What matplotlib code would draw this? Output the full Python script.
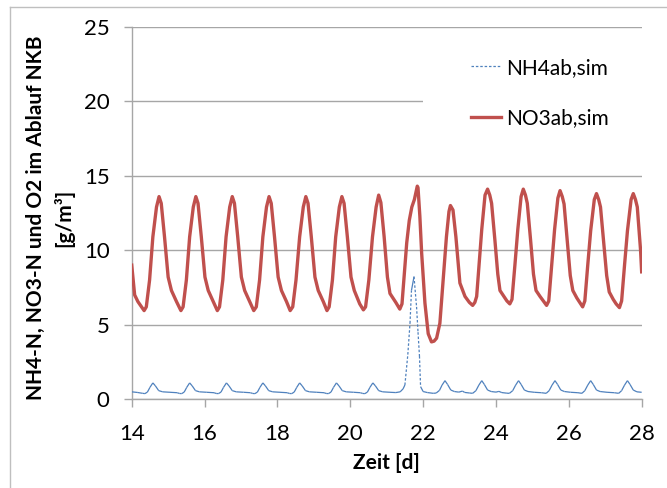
import matplotlib.pyplot as plt
import numpy as np
from matplotlib.collections import LineCollection
from matplotlib.lines import Line2D
from matplotlib.patches import Rectangle

plt.rcParams['font.family'] = ['Lato', 'DejaVu Sans']

# NH4 im Ablauf (Simulation)
nh4_day = [14.00, 14.15, 14.30, 14.36, 14.43, 14.50, 14.58, 14.65, 14.74, 14.85,
           15.05, 15.25, 15.31, 15.37, 15.44, 15.51, 15.59, 15.66, 15.75, 15.86,
           16.06, 16.26, 16.32, 16.38, 16.45, 16.52, 16.60, 16.67, 16.76, 16.87,
           17.07, 17.26, 17.32, 17.38, 17.45, 17.52, 17.60, 17.67, 17.76, 17.87,
           18.07, 18.27, 18.33, 18.39, 18.46, 18.53, 18.61, 18.68, 18.77, 18.88,
           19.08, 19.28, 19.34, 19.40, 19.47, 19.54, 19.62, 19.69, 19.78, 19.89,
           20.09, 20.28, 20.34, 20.40, 20.47, 20.54, 20.62, 20.69, 20.78, 20.89,
           21.09, 21.25, 21.37, 21.45, 21.50, 21.58, 21.64, 21.68, 21.75, 21.82,
           21.86, 21.90, 21.93, 22.00, 22.12, 22.28, 22.36, 22.45, 22.52, 22.60,
           22.67, 22.76, 22.86, 22.98, 23.08, 23.14, 23.28, 23.36, 23.45, 23.53,
           23.61, 23.68, 23.77, 23.87, 24.00, 24.08, 24.16, 24.30, 24.37, 24.46,
           24.54, 24.62, 24.69, 24.78, 24.88, 25.05, 25.25, 25.38, 25.46, 25.54,
           25.62, 25.69, 25.78, 25.88, 26.05, 26.25, 26.36, 26.44, 26.52, 26.60,
           26.67, 26.76, 26.86, 27.05, 27.25, 27.37, 27.45, 27.53, 27.61, 27.68,
           27.77, 27.87, 28.00]
nh4_val = [0.50, 0.46, 0.40, 0.38, 0.48, 0.80, 1.10, 0.90, 0.58, 0.50,
           0.47, 0.44, 0.39, 0.38, 0.48, 0.80, 1.10, 0.90, 0.58, 0.50,
           0.47, 0.44, 0.39, 0.38, 0.48, 0.80, 1.10, 0.90, 0.58, 0.50,
           0.47, 0.44, 0.39, 0.38, 0.48, 0.80, 1.10, 0.90, 0.58, 0.50,
           0.47, 0.44, 0.39, 0.38, 0.48, 0.80, 1.10, 0.90, 0.58, 0.50,
           0.47, 0.44, 0.39, 0.38, 0.48, 0.80, 1.10, 0.90, 0.58, 0.50,
           0.47, 0.44, 0.39, 0.38, 0.48, 0.80, 1.10, 0.90, 0.58, 0.50,
           0.47, 0.45, 0.50, 0.70, 0.96, 3.00, 5.10, 7.30, 8.23, 6.20,
           4.50, 2.90, 0.85, 0.52, 0.45, 0.40, 0.42, 0.60, 0.95, 1.25,
           1.00, 0.62, 0.52, 0.48, 0.55, 0.46, 0.42, 0.40, 0.58, 0.95,
           1.25, 1.00, 0.62, 0.52, 0.48, 0.53, 0.45, 0.41, 0.40, 0.58,
           0.95, 1.25, 1.00, 0.62, 0.52, 0.47, 0.44, 0.40, 0.58, 0.95,
           1.25, 1.00, 0.62, 0.52, 0.47, 0.44, 0.40, 0.58, 0.95, 1.25,
           1.00, 0.62, 0.52, 0.47, 0.44, 0.40, 0.58, 0.95, 1.25, 1.00,
           0.62, 0.50, 0.47]

# NO3 im Ablauf (Simulation)
no3_day = [14.00, 14.08, 14.17, 14.27, 14.34, 14.40, 14.49, 14.58, 14.68, 14.75,
           14.81, 14.90, 15.00, 15.09, 15.23, 15.35, 15.41, 15.50, 15.59, 15.69,
           15.76, 15.82, 15.91, 16.01, 16.10, 16.24, 16.35, 16.41, 16.50, 16.59,
           16.69, 16.76, 16.82, 16.91, 17.01, 17.10, 17.24, 17.35, 17.42, 17.51,
           17.60, 17.70, 17.77, 17.83, 17.92, 18.02, 18.11, 18.25, 18.35, 18.42,
           18.51, 18.61, 18.71, 18.78, 18.84, 18.93, 19.03, 19.12, 19.26, 19.36,
           19.42, 19.51, 19.60, 19.70, 19.77, 19.83, 19.92, 20.02, 20.11, 20.26,
           20.36, 20.42, 20.51, 20.61, 20.71, 20.78, 20.84, 20.93, 21.02, 21.09,
           21.25, 21.36, 21.42, 21.48, 21.55, 21.62, 21.69, 21.76, 21.84, 21.86,
           21.91, 21.96, 22.05, 22.14, 22.23, 22.30, 22.37, 22.46, 22.55, 22.64,
           22.71, 22.75, 22.82, 22.90, 23.01, 23.15, 23.27, 23.36, 23.42, 23.47,
           23.54, 23.61, 23.70, 23.77, 23.83, 23.88, 23.97, 24.05, 24.11, 24.22,
           24.30, 24.38, 24.44, 24.52, 24.60, 24.69, 24.75, 24.81, 24.86, 24.95,
           25.03, 25.10, 25.21, 25.30, 25.39, 25.45, 25.53, 25.61, 25.70, 25.76,
           25.82, 25.87, 25.96, 26.04, 26.11, 26.22, 26.30, 26.38, 26.44, 26.52,
           26.60, 26.70, 26.76, 26.82, 26.87, 26.96, 27.04, 27.11, 27.22, 27.30,
           27.39, 27.45, 27.53, 27.61, 27.71, 27.77, 27.83, 27.88, 27.97, 28.00]
no3_val = [9.00, 7.00, 6.55, 6.20, 5.95, 6.20, 8.00, 10.90, 12.90, 13.60,
           13.15, 10.90, 8.20, 7.30, 6.55, 5.95, 6.20, 8.00, 10.90, 12.90,
           13.60, 13.15, 10.90, 8.20, 7.30, 6.55, 5.95, 6.20, 8.00, 10.90,
           12.90, 13.60, 13.15, 10.90, 8.20, 7.30, 6.55, 5.95, 6.20, 8.00,
           10.90, 12.90, 13.60, 13.15, 10.90, 8.20, 7.30, 6.55, 5.95, 6.20,
           8.00, 10.90, 12.90, 13.60, 13.15, 10.90, 8.20, 7.30, 6.55, 5.95,
           6.20, 8.00, 10.90, 12.90, 13.60, 13.15, 10.90, 8.20, 7.30, 6.40,
           6.00, 6.20, 8.00, 10.90, 12.90, 13.70, 13.20, 10.90, 8.20, 7.10,
           6.50, 6.05, 6.40, 8.30, 10.50, 12.00, 12.90, 13.40, 14.30, 14.20,
           12.30, 9.80, 6.45, 4.40, 3.85, 3.90, 4.10, 5.10, 8.00, 10.90,
           12.60, 13.00, 12.70, 10.90, 7.80, 6.90, 6.50, 6.30, 6.50, 6.90,
           9.20, 11.40, 13.70, 14.10, 13.70, 13.15, 10.70, 8.40, 7.30, 6.90,
           6.60, 6.40, 6.70, 9.00, 11.40, 13.60, 14.10, 13.70, 13.15, 10.70,
           8.40, 7.30, 6.90, 6.60, 6.30, 6.60, 9.00, 11.40, 13.50, 14.00,
           13.60, 13.10, 10.60, 8.30, 7.30, 6.80, 6.50, 6.20, 6.60, 9.00,
           11.30, 13.40, 13.80, 13.40, 12.90, 10.50, 8.30, 7.20, 6.70, 6.40,
           6.15, 6.60, 9.00, 11.30, 13.40, 13.80, 13.40, 12.90, 10.00, 8.55]

blue = '#4F81BD'
red = '#C0504D'
grid_col = '#a6a6a6'

fig = plt.figure(figsize=(6.67, 4.88), dpi=100)
ax = fig.add_axes([0.1975, 0.1818, 0.7645, 0.7635])

# Rahmen des Diagrammbereichs (links und oben)
fig.add_artist(Line2D([0.015, 0.015], [0.0, 0.986], color='#bfbfbf', lw=1.0))
fig.add_artist(Line2D([0.015, 1.0], [0.986, 0.986], color='#bfbfbf', lw=1.0))

ax.set_xlim(14, 28)
ax.set_ylim(0, 25)
ax.set_xticks(np.arange(14, 29, 2))
ax.set_yticks(np.arange(0, 26, 5))
ax.yaxis.grid(True, color=grid_col, lw=1.0)
ax.set_axisbelow(True)

for s in ['top', 'right']:
    ax.spines[s].set_visible(False)
for s in ['left', 'bottom']:
    ax.spines[s].set_color(grid_col)
    ax.spines[s].set_linewidth(1.0)
ax.tick_params(axis='both', direction='out', length=6, width=1.0, color=grid_col,
               labelsize=16, labelcolor='black')
ax.tick_params(axis='y', pad=10)
ax.tick_params(axis='x', pad=12)

# NH4: kurze Segmente wirken durchgezogen, lange (Peak) gepunktet
pts = np.column_stack([nh4_day, nh4_val])
segs = np.stack([pts[:-1], pts[1:]], axis=1)
steep = np.abs(np.diff(nh4_val)) > 1.0
styles = [(0, (2, 1.5)) if s else 'solid' for s in steep]
ax.add_collection(LineCollection(segs, colors=blue, linewidths=0.9, linestyles=styles, zorder=3))

ax.plot(no3_day, no3_val, color=red, lw=2.4, zorder=4, solid_joinstyle='round')

# weisse Legendenflaeche ueber den Gitterlinien
ax.add_patch(Rectangle((0.571, 0.63), 0.45, 0.335, transform=ax.transAxes,
                       facecolor='white', edgecolor='none', zorder=2, clip_on=False))

handles = [Line2D([], [], color=blue, lw=0.9, linestyle=(0, (2, 1.5))),
           Line2D([], [], color=red, lw=2.4)]
ax.legend(handles, ['NH4ab,sim', 'NO3ab,sim'], loc='upper left',
          bbox_to_anchor=(0.645, 0.945), frameon=False, fontsize=15,
          handlelength=1.45, handletextpad=0.25, labelspacing=1.45, borderpad=0)

ax.set_xlabel('Zeit [d]', fontsize=15, fontweight='bold', labelpad=6)
fig.text(50 / 667, 1 - 218 / 488, 'NH4-N, NO3-N und O2 im Ablauf NKB\n[g/m³]',
         fontsize=15, fontweight='bold', rotation=90, ha='center', va='center',
         multialignment='center', linespacing=1.45)

fig.savefig('out.png', dpi=100)
